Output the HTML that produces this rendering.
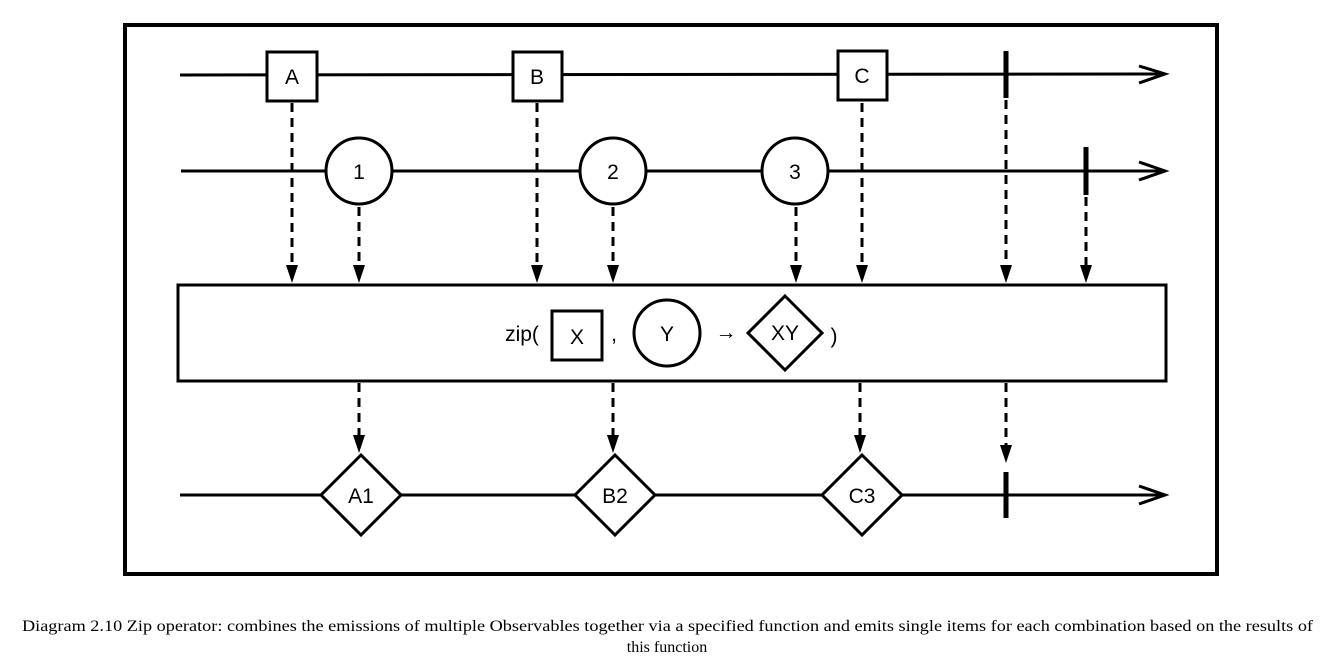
<!DOCTYPE html>
<html><head><meta charset="utf-8"><style>html,body{margin:0;padding:0;background:#fff;}svg{display:block}</style></head><body>
<svg width="1334" height="662" viewBox="0 0 1334 662" xmlns="http://www.w3.org/2000/svg">
<rect x="125" y="25" width="1092" height="549" fill="none" stroke="#000" stroke-width="4"/>
<g stroke="#000" stroke-width="3" fill="none">
<line x1="180" y1="75" x2="1165" y2="74"/>
<polyline points="1139,66 1165,74 1139,83"/>
<line x1="181" y1="171" x2="1165" y2="171"/>
<polyline points="1139,162 1165,171 1139,180"/>
<line x1="180" y1="495" x2="1165" y2="495"/>
<polyline points="1139,486 1165,495 1139,504"/>
</g>
<g stroke="#000" stroke-width="5">
<line x1="1006" y1="51" x2="1006" y2="98"/>
<line x1="1086" y1="147" x2="1086" y2="195"/>
<line x1="1006" y1="472" x2="1006" y2="518"/>
</g>
<g stroke="#000" stroke-width="3" stroke-dasharray="9,6" fill="none">
<line x1="292" y1="103" x2="292" y2="268"/>
<line x1="359" y1="207" x2="359" y2="268"/>
<line x1="537" y1="103" x2="537" y2="268"/>
<line x1="613" y1="207" x2="613" y2="268"/>
<line x1="796" y1="207" x2="796" y2="268"/>
<line x1="862" y1="103" x2="862" y2="268"/>
<line x1="1006" y1="100" x2="1006" y2="268"/>
<line x1="1086" y1="197" x2="1086" y2="268"/>
<line x1="359" y1="383" x2="359" y2="438"/>
<line x1="613" y1="383" x2="613" y2="438"/>
<line x1="860" y1="383" x2="860" y2="438"/>
<line x1="1006" y1="383" x2="1006" y2="448"/>
</g>
<g fill="#000">
<polygon points="286,265 298,265 292,283"/>
<polygon points="353,265 365,265 359,283"/>
<polygon points="531,265 543,265 537,283"/>
<polygon points="607,265 619,265 613,283"/>
<polygon points="790,265 802,265 796,283"/>
<polygon points="856,265 868,265 862,283"/>
<polygon points="1000,265 1012,265 1006,283"/>
<polygon points="1080,265 1092,265 1086,283"/>
<polygon points="353,435 365,435 359,453"/>
<polygon points="607,435 619,435 613,453"/>
<polygon points="854,435 866,435 860,453"/>
<polygon points="1000,445 1012,445 1006,463"/>
</g>
<g stroke="#000" stroke-width="3" fill="#fff">
<rect x="267" y="52" width="50" height="49"/>
<rect x="513" y="52" width="49" height="49"/>
<rect x="838" y="51" width="49" height="49"/>
<circle cx="359" cy="171" r="33"/>
<circle cx="613" cy="171" r="33"/>
<circle cx="795" cy="171" r="33"/>
<rect x="178" y="285" width="988" height="96"/>
<polygon points="361,455 401,495 361,535 321,495"/>
<polygon points="615,455 655,495 615,535 575,495"/>
<polygon points="862,455 902,495 862,535 822,495"/>
<rect x="552" y="311" width="50" height="49"/>
<circle cx="667" cy="333" r="33"/>
<polygon points="785,296 822,333 785,370 748,333"/>
</g>
<g font-family="Liberation Sans, sans-serif" font-size="21" text-anchor="middle" fill="#000">
<text x="292" y="84">A</text>
<text x="537" y="84">B</text>
<text x="862" y="83">C</text>
<text x="359" y="179">1</text>
<text x="613" y="179">2</text>
<text x="795" y="179">3</text>
<text x="361" y="503">A1</text>
<text x="615" y="503">B2</text>
<text x="862" y="503">C3</text>
<text x="522" y="341">zip(</text>
<text x="577" y="344">X</text>
<text x="614" y="341">,</text>
<text x="667" y="341">Y</text>
<text x="726" y="339">→</text>
<text x="785" y="340">XY</text>
<text x="834" y="343">)</text>
</g>
<g font-family="Liberation Serif, serif" font-size="16" fill="#000">
<text x="22" y="631" textLength="1291" lengthAdjust="spacingAndGlyphs">Diagram 2.10 Zip operator: combines the emissions of multiple Observables together via a specified function and emits single items for each combination based on the results of</text>
<text x="667" y="652" text-anchor="middle">this function</text>
</g>
</svg>
</body></html>
